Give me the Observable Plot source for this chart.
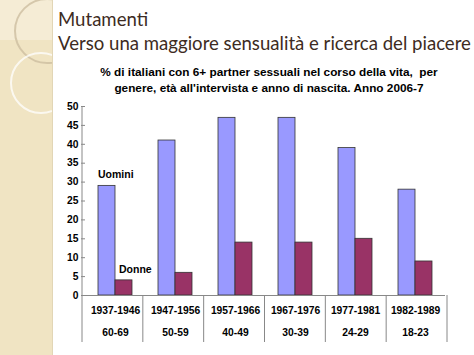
<!DOCTYPE html>
<html>
<head>
<meta charset="utf-8">
<script src="https://cdn.jsdelivr.net/npm/d3@7"></script>
<script src="https://cdn.jsdelivr.net/npm/@observablehq/plot@0.6"></script>
<style>
  html, body { margin: 0; padding: 0; background: #fff; }
  #slide { position: relative; width: 474px; height: 355px; overflow: hidden; background: #fff; }
  #strip { position: absolute; left: 0; top: 0; width: 52px; height: 355px; background: #f0e4c3; border-right: 1px solid #e2d6b6; overflow: hidden; }
  #strip .top { position: absolute; left: 0; top: 0; width: 52px; height: 40px; background: #f5ecd5; }
  #strip .c { position: absolute; border-radius: 50%; border: 2px solid rgba(205,190,160,0.8); }
  #strip .c2 { border-color: rgba(255,255,255,0.75); }
  .h { position: absolute; left: 58px; font-family: Lato, "Open Sans", sans-serif; color: #3d2b22; font-size: 18.6px; white-space: nowrap; }
  #ctitle { position: absolute; left: 69px; width: 400px; top: 64px; text-align: center; font-family: "Liberation Sans", Arial, sans-serif; font-weight: bold; font-size: 11.8px; line-height: 16px; color: #000; white-space: nowrap; }
  #chart { position: absolute; left: 0; top: 96px; }
</style>
</head>
<body>
<div id="slide">
  <div id="strip">
    <div class="top"></div>
    <div class="c" style="left:14px; top:-2px; width:62px; height:62px;"></div>
    <div class="c c2" style="left:10px; top:52px; width:58px; height:58px;"></div>
  </div>
  <div class="h" style="top:8px;">Mutamenti</div>
  <div class="h" style="top:32px;">Verso una maggiore sensualità e ricerca del piacere</div>
  <div id="ctitle">% di italiani con 6+ partner sessuali nel corso della vita,&nbsp; per<br>genere, età all'intervista e anno di nascita. Anno 2006-7</div>
  <div id="chart"></div>
</div>
<script>
const cohorts = ["1937-1946", "1947-1956", "1957-1966", "1967-1976", "1977-1981", "1982-1989"];
const ages = ["60-69", "50-59", "40-49", "30-39", "24-29", "18-23"];
const series = ["Uomini", "Donne"];
const uomini = [29, 41, 47, 47, 39, 28];
const donne = [4, 6, 14, 14, 15, 9];
const yTicks = [0, 5, 10, 15, 20, 25, 30, 35, 40, 45, 50];
const colors = ["#9999ff", "#993366"];

const rows = [];
cohorts.forEach((c, i) => {
  rows.push({cohort: c, sex: "Uomini", value: uomini[i]});
  rows.push({cohort: c, sex: "Donne", value: donne[i]});
});
const seriesLabels = [
  {cohort: cohorts[0], sex: "Uomini", value: uomini[0]},
  {cohort: cohorts[0], sex: "Donne", value: donne[0]}
];

const plot = Plot.plot({
  width: 474,
  height: 259,
  marginLeft: 82,
  marginRight: 27,
  marginTop: 10,
  marginBottom: 60,
  style: {fontFamily: "'Liberation Sans', Arial, sans-serif", fontSize: "10.3px", fontWeight: "bold", color: "#000", background: "transparent"},
  fx: {domain: cohorts, padding: 0, axis: null, label: null},
  x: {domain: series, paddingInner: 0, paddingOuter: 0.69, axis: null, label: null},
  y: {domain: [0, 50], ticks: yTicks, label: null, axis: null},
  color: {domain: series, range: colors},
  marks: [
    Plot.barY(rows, {fx: "cohort", x: "sex", y: "value", fill: "sex", stroke: "#333", strokeWidth: 0.8}),
    Plot.ruleY([0], {stroke: "#888", strokeWidth: 1}),
    Plot.axisY({ticks: yTicks, tickSize: 4, tickPadding: 3, stroke: "#888", fill: "#000", label: null}),
    Plot.text(seriesLabels.slice(0, 1), {fx: "cohort", x: "sex", y: "value", text: "sex", textAnchor: "start", lineAnchor: "bottom", dx: -9, dy: -8, fontSize: 10.5}),
    Plot.text(seriesLabels.slice(1), {fx: "cohort", x: "sex", y: "value", text: "sex", textAnchor: "start", lineAnchor: "bottom", dx: -5, dy: -7, fontSize: 10.5}),
    Plot.text(cohorts, {fx: d => d, text: d => d, frameAnchor: "bottom", dy: 18}),
    Plot.text(cohorts, {fx: d => d, text: (d, i) => ages[i], frameAnchor: "bottom", dy: 40})
  ]
});
document.getElementById("chart").appendChild(plot);

// y axis line and category-table separators, placed through the plot's own scales
const fxS = plot.scale("fx");
const yS = plot.scale("y");
const band = d3.scaleBand().domain(fxS.domain).range(fxS.range).padding(0);
const yTop = yS.apply(50), yBase = yS.apply(0);
const svg = d3.select(plot);
svg.append("line")
  .attr("x1", fxS.range[0]).attr("x2", fxS.range[0])
  .attr("y1", yTop).attr("y2", yBase)
  .attr("stroke", "#888");
const bounds = fxS.domain.map(d => band(d)).concat([fxS.range[1]]);
svg.append("g").selectAll("line").data(bounds).join("line")
  .attr("x1", d => d).attr("x2", d => d)
  .attr("y1", yBase).attr("y2", yBase + 47)
  .attr("stroke", "#888");
</script>
</body>
</html>
